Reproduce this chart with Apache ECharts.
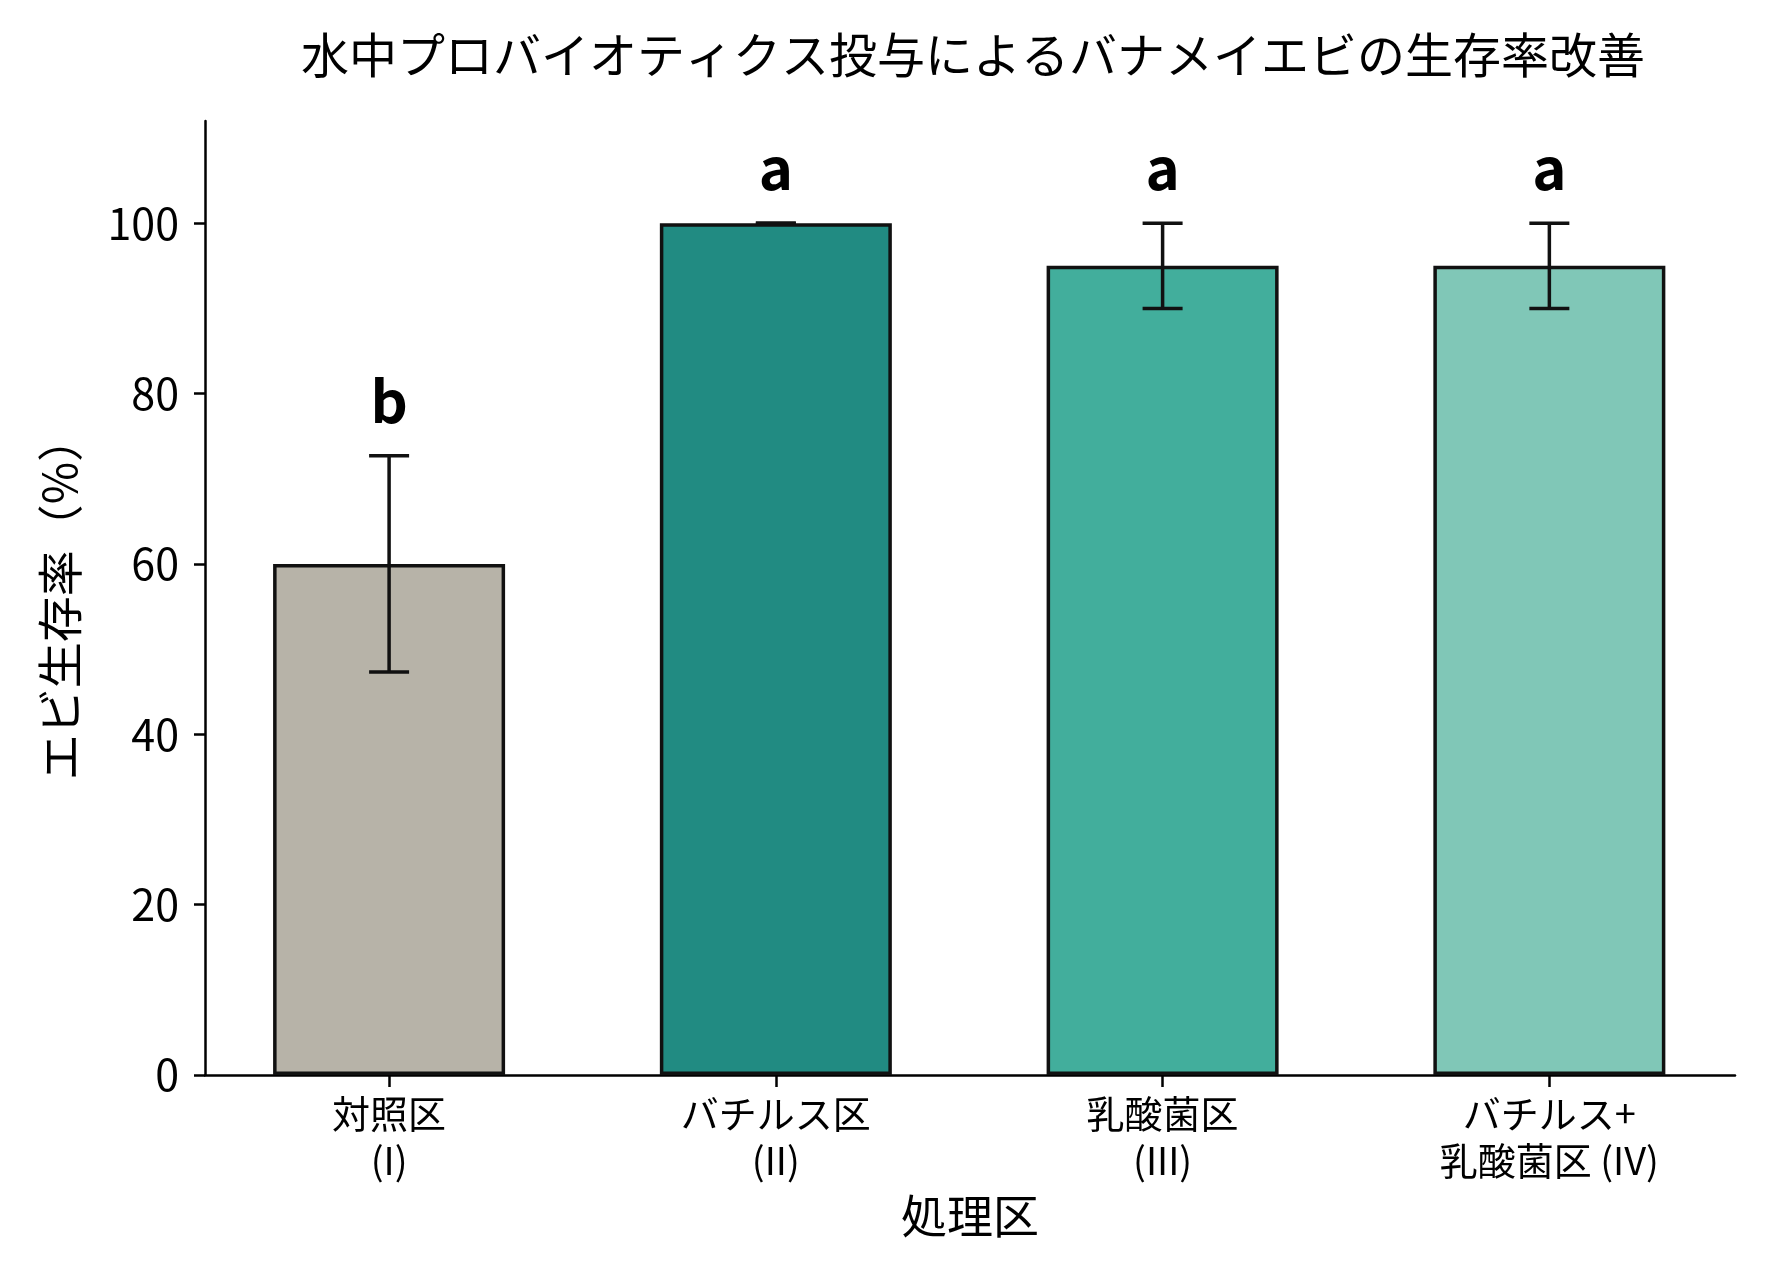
<!DOCTYPE html>
<html lang="ja">
<head>
<meta charset="UTF-8">
<title>バナメイエビの生存率</title>
<style>
  html, body { margin: 0; padding: 0; background: #fff; }
  #chart { width: 1774px; height: 1275px; }
</style>
<script src="https://cdn.jsdelivr.net/npm/echarts@6/dist/echarts.min.js"></script>
</head>
<body>
<div id="chart"></div>
<script>
// データ
var categories = ['対照区\n(I)', 'バチルス区\n(II)', '乳酸菌区\n(III)', 'バチルス+\n乳酸菌区 (IV)'];
var survival = [60, 100, 95, 95];      // 平均生存率 (%)
var sd = [12.7, 0, 5, 5];              // 標準偏差
var letters = ['b', 'a', 'a', 'a'];    // 有意差記号
var yTicks = [0, 20, 40, 60, 80, 100];
var barColors = ['#b7b3a8', '#218b82', '#42ae9c', '#80c7b7'];

var FONT = '"Noto Sans CJK JP", "Noto Sans", sans-serif';
var chart = echarts.init(document.getElementById('chart'));

var xIdx = categories.map(function (c, i) { return i; });

var barData = survival.map(function (v, i) {
    return { value: [i, v], itemStyle: { color: barColors[i] } };
});
var errData = survival.map(function (v, i) {
    return [i, v, sd[i]];
});

var option = {
    backgroundColor: '#fff',
    animation: false,
    title: {
        text: '水中プロバイオティクス投与によるバナメイエビの生存率改善',
        left: 973,
        top: 31,
        padding: 0,
        textAlign: 'center',
        textStyle: { fontFamily: FONT, fontSize: 48, fontWeight: 'normal', color: '#000' }
    },
    grid: { left: 205, right: 39, top: 121, bottom: 200 },
    xAxis: {
        type: 'value',
        min: -0.476,
        max: 3.48,
        name: '処理区',
        nameLocation: 'middle',
        nameGap: 118,
        nameTextStyle: { fontFamily: FONT, fontSize: 46, color: '#000' },
        splitLine: { show: false },
        axisLine: { show: true, onZero: false, lineStyle: { color: '#000', width: 2.5 } },
        axisTick: { show: true, customValues: xIdx, length: 12, lineStyle: { color: '#000', width: 2.5 } },
        axisLabel: {
            customValues: xIdx,
            formatter: function (v) { return categories[Math.round(v)]; },
            margin: 15,
            fontFamily: FONT, fontSize: 38, lineHeight: 47, color: '#000'
        }
    },
    yAxis: {
        type: 'value',
        min: 0,
        max: 112,
        name: 'エビ生存率（%）',
        nameLocation: 'middle',
        nameRotate: 90,
        nameGap: 122,
        nameTextStyle: { fontFamily: FONT, fontSize: 46, color: '#000' },
        splitLine: { show: false },
        axisLine: { show: true, onZero: false, lineStyle: { color: '#000', width: 2.5 } },
        axisTick: { show: true, customValues: yTicks, length: 11, lineStyle: { color: '#000', width: 2.5 } },
        axisLabel: {
            customValues: yTicks,
            margin: 26,
            fontFamily: FONT, fontSize: 43, color: '#000'
        }
    },
    series: [
        {
            type: 'bar',
            data: barData,
            barWidth: 232,
            itemStyle: { borderColor: '#111', borderWidth: 3.5 },
            z: 1
        },
        {
            // 誤差棒と有意差記号
            type: 'custom',
            data: errData,
            z: 5,
            renderItem: function (params, api) {
                var x = api.value(0), m = api.value(1), s = api.value(2);
                var top = api.coord([x, m + s]);
                var bot = api.coord([x, m - s]);
                var cap = 20;
                var st = { stroke: '#111', lineWidth: 3.5 };
                return {
                    type: 'group',
                    children: [
                        { type: 'line', shape: { x1: top[0], y1: top[1], x2: bot[0], y2: bot[1] }, style: st },
                        { type: 'line', shape: { x1: top[0] - cap, y1: top[1], x2: top[0] + cap, y2: top[1] }, style: st },
                        { type: 'line', shape: { x1: bot[0] - cap, y1: bot[1], x2: bot[0] + cap, y2: bot[1] }, style: st },
                        {
                            type: 'text',
                            x: top[0], y: top[1] - 55,
                            style: {
                                text: letters[params.dataIndex],
                                fontFamily: FONT, fontSize: 58, fontWeight: 'bold',
                                fill: '#000', align: 'center', verticalAlign: 'middle'
                            }
                        }
                    ]
                };
            }
        }
    ]
};

chart.setOption(option);
</script>
</body>
</html>
